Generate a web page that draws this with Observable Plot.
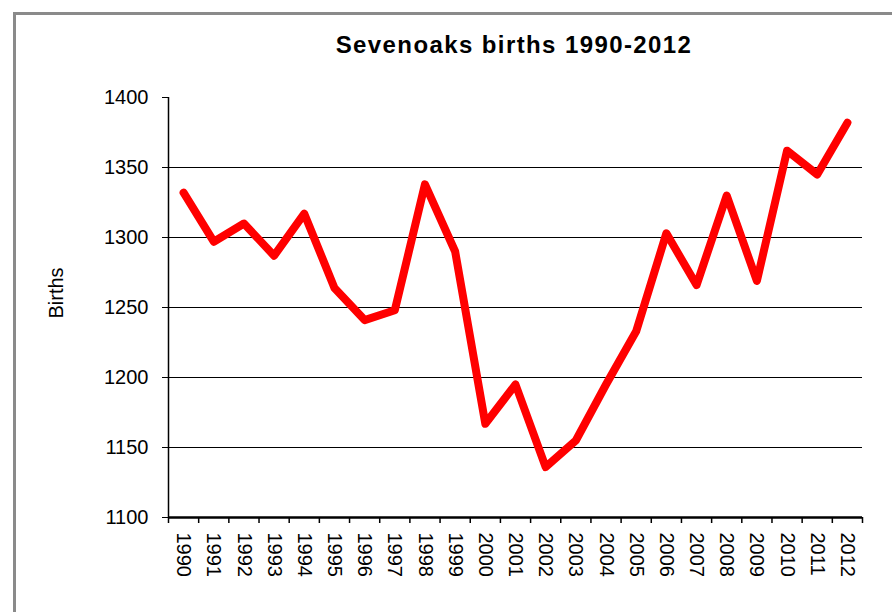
<!DOCTYPE html>
<html>
<head>
<meta charset="utf-8">
<script src="https://cdn.jsdelivr.net/npm/d3@7"></script>
<script src="https://cdn.jsdelivr.net/npm/@observablehq/plot@0.6"></script>
<style>
  html, body { margin: 0; padding: 0; background: #fff; overflow: hidden; }
  #wrap { position: relative; width: 892px; height: 612px; overflow: hidden; font-family: "Liberation Sans", Arial, sans-serif; }
  #frame { position: absolute; left: 13px; top: 12px; width: 1000px; height: 1000px; border-left: 3px solid #8a8a8a; border-top: 3px solid #8a8a8a; box-sizing: border-box; }
  #title { position: absolute; left: 264px; width: 500px; top: 33px; text-align: center; font-size: 24px; line-height: 24px; font-weight: bold; letter-spacing: 1.4px; color: #000; z-index: 2; }
  #chart { position: absolute; left: 0; top: 0; z-index: 1; }
</style>
</head>
<body>
<div id="wrap">
  <div id="frame"></div>
  <div id="chart"></div>
  <div id="title">Sevenoaks births 1990-2012</div>
</div>
<script>
const years = [1990, 1991, 1992, 1993, 1994, 1995, 1996, 1997, 1998, 1999, 2000, 2001, 2002, 2003, 2004, 2005, 2006, 2007, 2008, 2009, 2010, 2011, 2012];
const births = [1332, 1297, 1310, 1287, 1317, 1264, 1241, 1248, 1338, 1290, 1167, 1195, 1136, 1155, 1195, 1233, 1303, 1266, 1330, 1269, 1362, 1345, 1382];
const yTicks = [1100, 1150, 1200, 1250, 1300, 1350, 1400];
const gridTicks = [1150, 1200, 1250, 1300, 1350];
const yLabel = "Births";

const data = years.map((y, i) => ({year: y, births: births[i]}));
const bounds = years.map(y => y - 0.5).concat([years[years.length - 1] + 0.5]);
const xDomain = [bounds[0], bounds[bounds.length - 1]];

const chart = Plot.plot({
  width: 892,
  height: 612,
  marginLeft: 168,
  marginRight: 30,
  marginTop: 97,
  marginBottom: 95,
  style: {fontFamily: '"Liberation Sans", Arial, sans-serif', fontSize: "20px", background: "transparent", color: "#000"},
  x: {type: "linear", domain: xDomain},
  y: {domain: [1100, 1400]},
  marks: [
    Plot.gridY(gridTicks, {stroke: "#000", strokeOpacity: 1, strokeWidth: 1}),
    Plot.axisY({ticks: yTicks, tickSize: 6, tickPadding: 14, tickFormat: "d", label: null, fontSize: 20}),
    Plot.axisX({ticks: bounds, tickSize: 6, tickFormat: () => "", label: null, strokeWidth: 1.5}),
    Plot.axisX({ticks: years, tickSize: 0, tickPadding: 15, tickRotate: 90, tickFormat: "d", label: null, fontSize: 20}),
    Plot.ruleX([xDomain[0]], {y1: 1100, y2: 1400, stroke: "#000", strokeWidth: 1.5}),
    Plot.ruleY([1100], {stroke: "#000", strokeWidth: 2.5}),
    Plot.text([yLabel], {frameAnchor: "left", text: d => d, rotate: -90, dx: -112, dy: 11, fontSize: 20}),
    Plot.line(data, {x: "year", y: "births", stroke: "#ff0000", strokeWidth: 8, strokeLinejoin: "round", strokeLinecap: "round"})
  ]
});
document.getElementById("chart").appendChild(chart);
</script>
</body>
</html>
